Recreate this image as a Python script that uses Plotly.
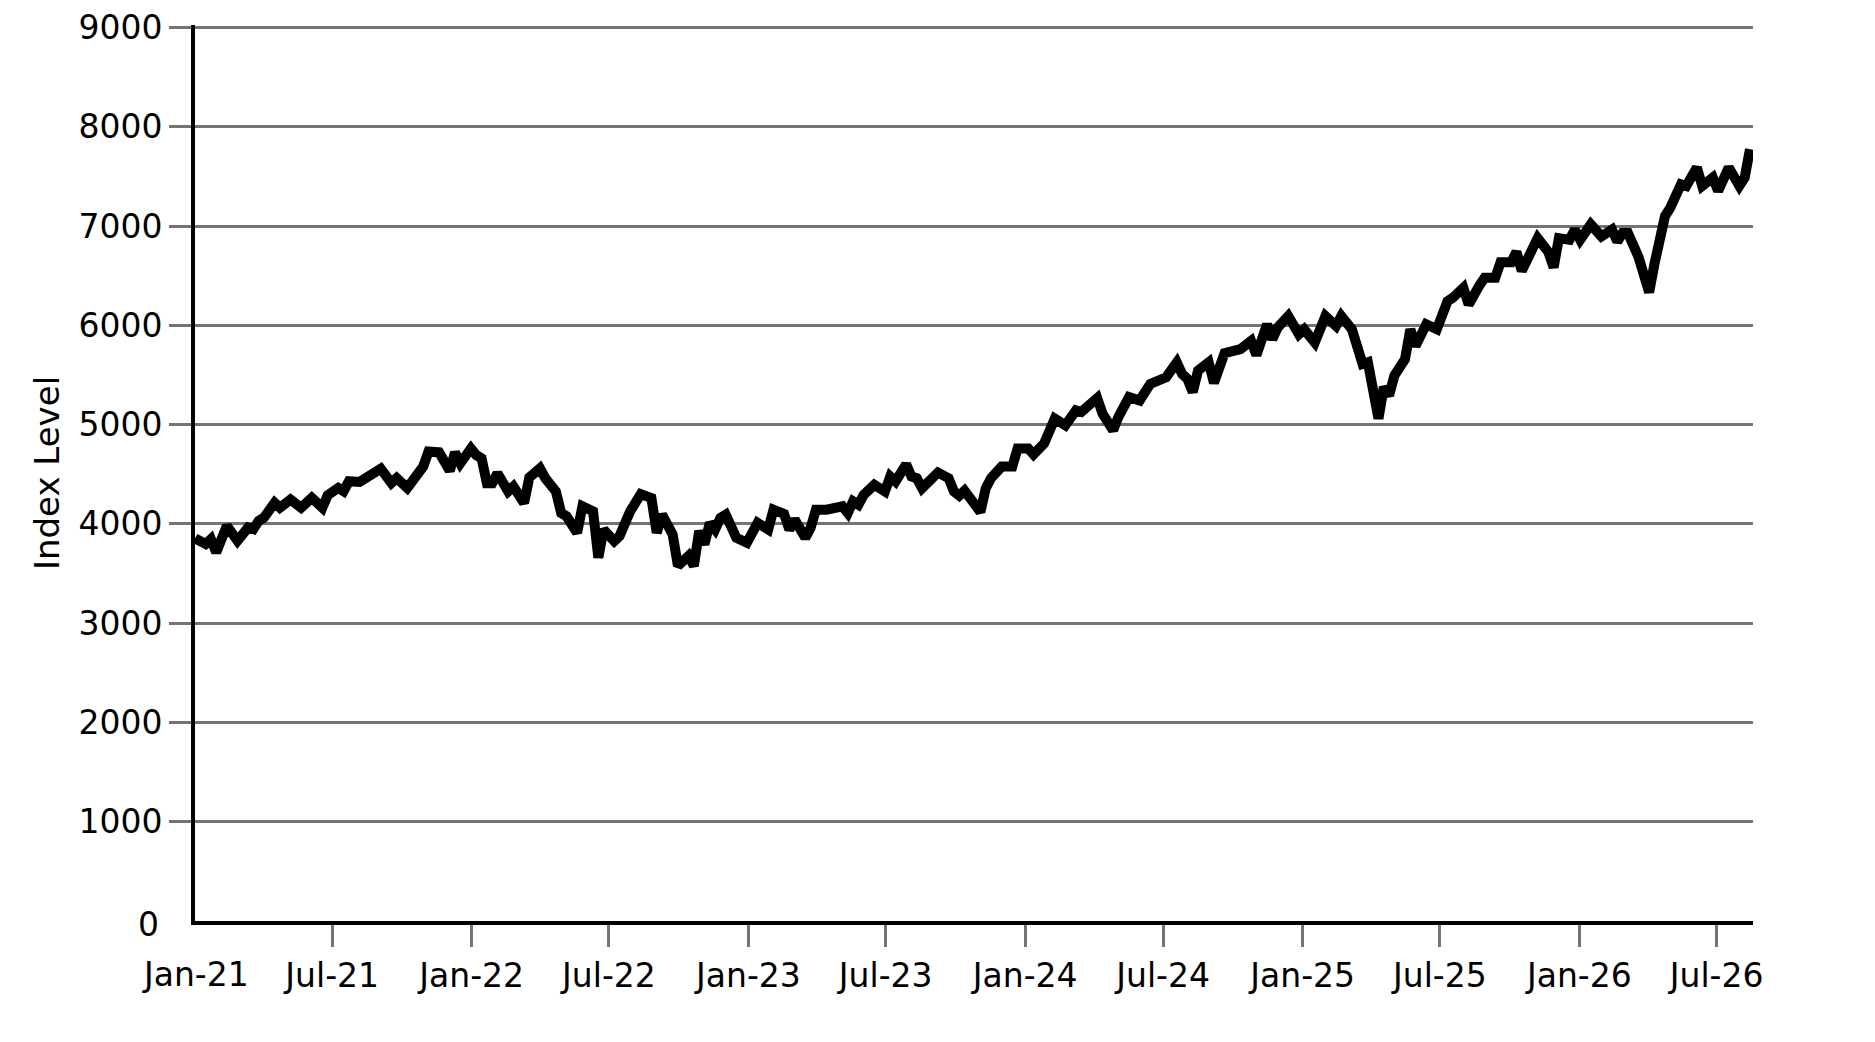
import pandas as pd
import plotly.graph_objects as go

# Weekly index levels (week offset from START, value)
START = "2021-01-01"
week_offset = [
    0, 2, 3, 4, 6, 8, 10, 11, 12, 13, 15, 16, 18, 20, 22, 24, 25, 27, 28, 29,
    31, 32, 34, 35, 37, 38, 40, 43, 44, 46, 48, 49, 50, 52, 53, 54, 55, 56, 57, 59,
    60, 62, 63, 65, 66, 68, 69, 70, 72, 73, 75, 76, 77, 79, 80, 82, 84, 86, 87, 88,
    90, 91, 93, 94, 95, 96, 97, 98, 99, 100, 102, 104, 106, 108, 109, 111, 112, 113, 115, 116,
    117, 119, 122, 123, 124, 125, 126, 128, 130, 131, 132, 133, 134, 135, 136, 137, 140, 142, 143, 144,
    145, 148, 149, 150, 152, 154, 155, 157, 158, 160, 161, 162, 164, 165, 166, 167, 170, 171, 173, 174,
    176, 178, 180, 183, 185, 186, 187, 188, 189, 191, 192, 194, 197, 199, 200, 202, 203, 204, 206, 208,
    209, 211, 213, 215, 216, 218, 219, 220, 221, 222, 223, 224, 225, 226, 228, 229, 230, 232, 234, 236,
    237, 239, 240, 242, 243, 245, 246, 248, 249, 250, 252, 253, 255, 256, 257, 259, 260, 261, 263, 265,
    267, 268, 269, 270, 272, 274, 275, 277, 278, 280, 281, 283, 284, 286, 287, 289, 291, 292, 293,
]
index_level = [
    3854, 3797, 3847, 3714, 3980, 3830, 3963, 3947, 4030, 4063, 4213, 4163, 4246, 4163, 4262, 4163, 4289, 4362, 4329, 4429,
    4422, 4462, 4511, 4555, 4412, 4462, 4362, 4578, 4728, 4720, 4535, 4720, 4610, 4760, 4693, 4660, 4410, 4410, 4510, 4327,
    4377, 4210, 4467, 4560, 4460, 4327, 4110, 4077, 3910, 4177, 4127, 3660, 3943, 3827, 3877, 4127, 4300, 4260, 3910, 4093,
    3893, 3577, 3677, 3577, 3927, 3793, 4010, 3943, 4060, 4093, 3860, 3810, 4010, 3943, 4143, 4100, 3943, 4043, 3860, 3960,
    4143, 4143, 4177, 4110, 4227, 4193, 4293, 4393, 4327, 4477, 4427, 4527, 4600, 4477, 4460, 4360, 4517, 4460, 4327, 4285,
    4335, 4120, 4360, 4460, 4577, 4577, 4760, 4760, 4700, 4810, 4927, 5060, 4993, 5093, 5143, 5127, 5267, 5110, 4943, 5077,
    5277, 5243, 5410, 5477, 5627, 5510, 5460, 5327, 5543, 5627, 5420, 5720, 5760, 5843, 5700, 6010, 5860, 5977, 6093, 5910,
    5960, 5827, 6093, 5993, 6093, 5960, 5743, 5610, 5627, 5393, 5060, 5377, 5293, 5493, 5660, 5960, 5793, 6010, 5960, 6243,
    6277, 6377, 6210, 6400, 6479, 6479, 6635, 6635, 6740, 6549, 6757, 6878, 6740, 6583, 6878, 6861, 6965, 6861, 7017, 6896,
    6965, 6844, 6931, 6931, 6688, 6333, 6618, 7101, 7185, 7421, 7404, 7589, 7404, 7488, 7354, 7589, 7404, 7488, 7774,
]

# Tick labels (the first label on each axis sits at the axis corner without a tick mark)
tick_dates = ["2021-07-01", "2022-01-01", "2022-07-01", "2023-01-01", "2023-07-01",
              "2024-01-01", "2024-07-01", "2025-01-01", "2025-07-01", "2026-01-01", "2026-07-01"]
tick_labels = ["Jul-21", "Jan-22", "Jul-22", "Jan-23", "Jul-23",
               "Jan-24", "Jul-24", "Jan-25", "Jul-25", "Jan-26", "Jul-26"]
corner_x_date = "2021-01-01"
corner_x_label = "Jan-21"
y_ticks = [1000, 2000, 3000, 4000, 5000, 6000, 7000, 8000, 9000]
corner_y_value = 0
corner_y_label = "0"
x_range = ["2021-01-01", "2026-08-18"]
y_range = [0, 9025]

dates = pd.to_datetime(START) + pd.to_timedelta([w * 7 for w in week_offset], unit="D")

fig = go.Figure()
fig.add_trace(go.Scatter(
    x=dates, y=index_level, mode="lines",
    line=dict(color="black", width=10),
    hoverinfo="skip", showlegend=False,
))

FONT = "DejaVu Sans, sans-serif"
GRID = "#747474"
FS = 33

fig.update_layout(
    width=1875, height=1042,
    margin=dict(l=187, r=130, t=17, b=129),
    paper_bgcolor="white", plot_bgcolor="white",
    font=dict(family=FONT, size=FS, color="black"),
    showlegend=False,
    xaxis=dict(
        range=x_range, tickvals=tick_dates, ticktext=tick_labels,
        showgrid=False, zeroline=False, automargin=False,
        showline=True, linecolor="black", linewidth=4,
        ticks="outside", ticklen=22, tickwidth=3, tickcolor=GRID,
        tickfont=dict(family=FONT, size=FS, color="black"),
        ticklabeloverflow="allow",
    ),
    yaxis=dict(
        range=y_range, tickvals=y_ticks,
        showgrid=True, gridcolor=GRID, gridwidth=3,
        zeroline=False, automargin=False,
        showline=True, linecolor="black", linewidth=4,
        ticks="outside", ticklen=22, tickwidth=3, tickcolor=GRID,
        tickfont=dict(family=FONT, size=FS, color="black"),
        ticklabeloverflow="allow",
        title=dict(text="Index Level", font=dict(family=FONT, size=34, color="black"), standoff=10),
    ),
    annotations=[
        dict(text=corner_x_label, x=corner_x_date, xref="x", y=0, yref="paper",
             xanchor="center", yanchor="middle", yshift=-53, showarrow=False,
             font=dict(family=FONT, size=FS, color="black")),
        dict(text=corner_y_label, x=0, xref="paper", y=corner_y_value, yref="y",
             xanchor="right", yanchor="middle", xshift=-34, yshift=-3, showarrow=False,
             font=dict(family=FONT, size=FS, color="black")),
    ],
)

fig.write_html("out.html")
